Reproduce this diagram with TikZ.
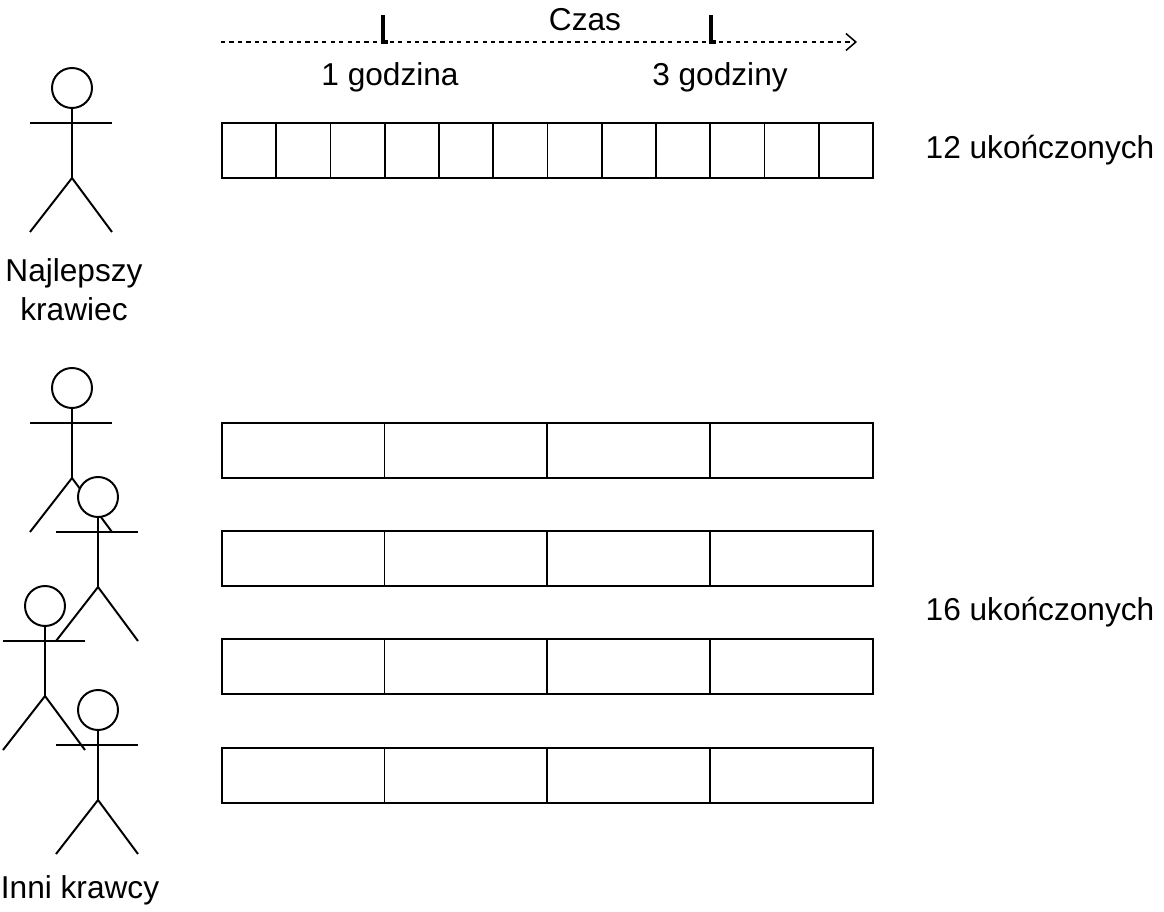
\documentclass[tikz,border=0pt]{standalone}
\usepackage{fontspec}
\setmainfont{Liberation Sans}
\usetikzlibrary{arrows.meta, positioning}

% stick figure: head centre, arm y, hip y, foot y, half width
\newcommand{\krawiec}[2]{%
  \draw[figline] (#1-42,#2+35) -- (#1+40,#2+35);
  \draw[figline] (#1,#2+20) -- (#1,#2+90);
  \draw[figline] (#1-42,#2+144) -- (#1,#2+90) -- (#1+40,#2+144);
}
\newcommand{\glowa}[2]{%
  \draw[figline, fill=white] (#1,#2) circle (20);
}

\begin{document}
\begin{tikzpicture}[
    x=0.025cm, y=-0.025cm,
    figline/.style={line width=1.4pt},
    cell/.style={draw, line width=1.2pt, minimum height=1.375cm, inner sep=0pt, anchor=north west},
    lbl/.style={font=\fontsize{22.5}{28}\selectfont, align=center}
]
    \useasboundingbox (0,0) rectangle (1164,912);

    % time axis
    \coordinate (t0) at (221,42);
    \coordinate (t1) at (857,42);
    \draw[dashed, line width=1.1pt, -{Straight Barb[length=7pt, width=12pt]}] (t0) -- (t1);
    \draw[line width=2.2pt] (383,15) -- (383,42) -- (388,42);
    \draw[line width=2.2pt] (711,15) -- (711,42) -- (716,42);
    \node[lbl] (czas) at (585,20) {Czas};
    \node[lbl] (h1) at (390,77) {1 godzina};
    \node[lbl] (h3) at (720,77) {3 godziny};

    % best tailor
    \foreach \i in {0,...,11}
        \node[cell, minimum width=1.3567cm] (a\i) at (221+54.27*\i,122) {};
    \node[lbl] (wynik1) at (1040,150) {12 ukończonych};

    % other tailors
    \foreach \r/\y in {1/422, 2/530, 3/638, 4/747}
        \foreach \i in {0,...,3}
            \node[cell, minimum width=4.0675cm] (b\r\i) at (221+162.7*\i,\y) {};
    \node[lbl] (wynik2) at (1040,612) {16 ukończonych};

    % figures
    \krawiec{72}{88}
    \glowa{72}{88}
    \krawiec{72}{388}
    \krawiec{98}{497}
    \krawiec{45}{606}
    \krawiec{98}{710}
    \glowa{72}{388}
    \glowa{98}{497}
    \glowa{45}{606}
    \glowa{98}{710}
    \node[lbl] (najlepszy) at (74,290) {Najlepszy\\krawiec};
    \node[lbl] (inni) at (80,890) {Inni krawcy};
\end{tikzpicture}
\end{document}
